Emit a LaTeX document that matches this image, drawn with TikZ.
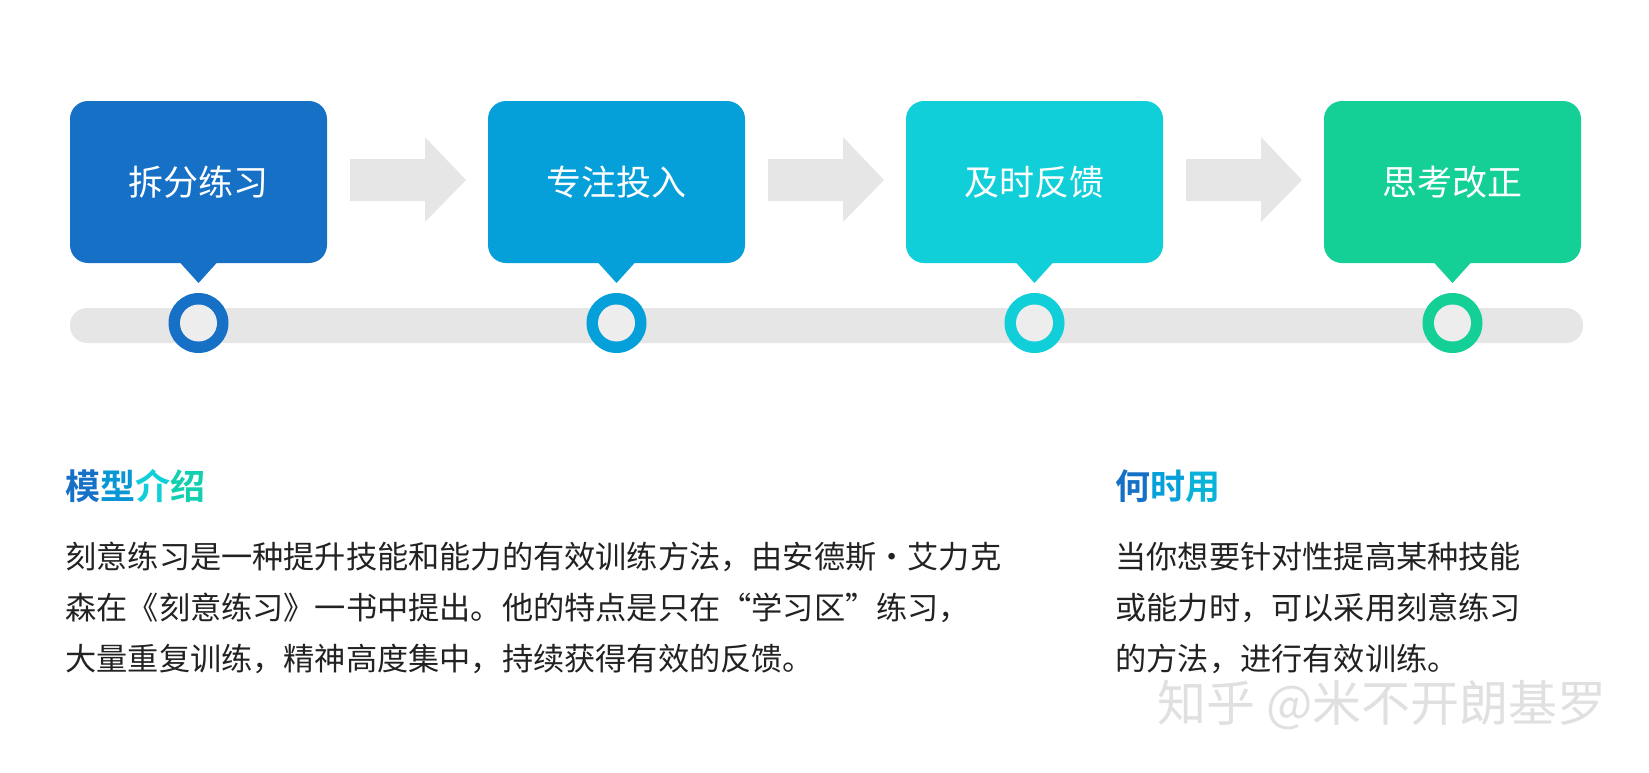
\documentclass[tikz,border=0pt]{standalone}
\usepackage{fontspec}
\newfontfamily\cjk{Noto Sans CJK SC}
\newfontfamily\cjkb{Noto Sans CJK SC Bold}
\definecolor{stepA}{HTML}{1570C6}
\definecolor{stepB}{HTML}{059FD9}
\definecolor{stepC}{HTML}{10CFD8}
\definecolor{stepD}{HTML}{14CF96}
\definecolor{track}{HTML}{E6E6E6}
\definecolor{bodytxt}{HTML}{222222}
\tikzset{
  stepbox/.style={rounded corners=9pt,draw=none},
  steptext/.style={font=\cjk\fontsize{17.5}{20}\selectfont,text=white},
  bodytext/.style={font=\cjk\fontsize{15.6}{25.5}\selectfont,text=bodytxt,align=left,anchor=north west,inner sep=0pt},
  heading/.style={font=\cjkb\fontsize{17.5}{20}\selectfont,anchor=west,inner sep=0pt}
}
\begin{document}
\begin{tikzpicture}[x=0.5pt,y=-0.5pt]
	\useasboundingbox (0,0) rectangle (1649,772);

	%track
	\fill[track,rounded corners=8.5pt] (70,308) rectangle (1583,343);

	%steps
	\foreach \i/\c/\t in {0/stepA/拆分练习,1/stepB/专注投入,2/stepC/及时反馈,3/stepD/思考改正}{
	  \pgfmathsetmacro{\xl}{70+418*\i}
	  \pgfmathsetmacro{\xm}{\xl+128.5}
	  \fill[\c,stepbox] (\xl,101) rectangle ++(257,162);
	  \fill[\c] (\xm-19,262) -- (\xm,283) -- (\xm+19,262) -- cycle;
	  \node[steptext] (s\i) at (\xm,182) {\t};
	  \fill[\c] (\xm,323) circle (30);
	  \fill[track!70!white] (\xm,323) circle (18.5);
	}

	%arrows
	\foreach \i in {0,1,2}{
	  \pgfmathsetmacro{\xa}{350+418*\i}
	  \fill[track] (\xa,159) -- ++(75,0) -- ++(0,-22) -- ++(41,43) -- ++(-41,42) -- ++(0,-21) -- ++(-75,0) -- cycle;
	}

	%texts
	\node[heading] (intro) at (65,486) {\textcolor{stepA}{模}\textcolor{stepB!80!stepA}{型}\textcolor{stepC}{介}\textcolor{stepD!60!stepC}{绍}};
	\node[bodytext] (introtxt) at (65,542) {刻意练习是一种提升技能和能力的有效训练方法，由安德斯·艾力克\\森在《刻意练习》一书中提出。他的特点是只在“学习区”练习，\\大量重复训练，精神高度集中，持续获得有效的反馈。};
	\node[heading] (when) at (1115,486) {\textcolor{stepA}{何}\textcolor{stepB}{时}\textcolor{stepB!60!stepC}{用}};
	\node[bodytext] (whentxt) at (1115,542) {当你想要针对性提高某种技能\\或能力时，可以采用刻意练习\\的方法，进行有效训练。};

	%watermark
	\node[font=\cjk\fontsize{24.5}{28}\selectfont,text=black!12,anchor=west,inner sep=0pt] (mark) at (1157,705) {知乎 @米不开朗基罗};
\end{tikzpicture}
\end{document}
